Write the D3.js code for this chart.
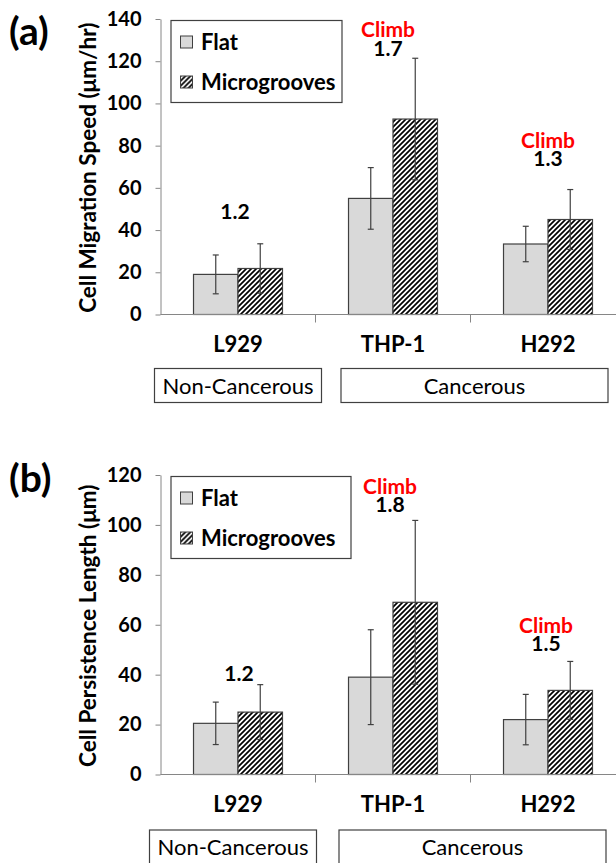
<!DOCTYPE html>
<html>
<head>
<meta charset="utf-8">
<script src="https://cdn.jsdelivr.net/npm/d3@7"></script>
<style>
  body { margin: 0; background: #fff; }
  text { font-family: Lato, "Open Sans", sans-serif; }
</style>
</head>
<body>
<svg id="chart" width="616" height="863"></svg>
<script>
// categories and groups
var categories = ["L929", "THP-1", "H292"];
var seriesNames = ["Flat", "Microgrooves"];
var groupNames = ["Non-Cancerous", "Cancerous"];
var groupMembers = [["L929"], ["THP-1", "H292"]];

// (a) migration speed, um/hr
var speedFlat = [19, 55, 33.4];
var speedFlatErr = [9.2, 14.6, 8.4];
var speedGroove = [21.8, 92.6, 45];
var speedGrooveErr = [11.7, 28.8, 14.2];
var speedRatio = ["1.2", "1.7", "1.3"];
var speedTicks = [0, 20, 40, 60, 80, 100, 120, 140];

// (b) persistence length, um
var lengthFlat = [20.5, 39, 22];
var lengthFlatErr = [8.5, 19, 10.1];
var lengthGroove = [25, 69, 33.7];
var lengthGrooveErr = [11, 32.8, 11.6];
var lengthRatio = ["1.2", "1.8", "1.5"];
var lengthTicks = [0, 20, 40, 60, 80, 100, 120];

var climbs = [false, true, true];

var panels = [
    {
        tag: "(a)", title: "Cell Migration Speed (\u03bcm/hr)",
        flat: speedFlat, flatErr: speedFlatErr, groove: speedGroove, grooveErr: speedGrooveErr,
        ratio: speedRatio, ticks: speedTicks,
        top: 19, zero: 314.5, tagY: 45,
        labelY: [45.3, 122.5, 70.2], labelDx: [-3, -5, 0],
        legendW: 171, boxY: 368.5, boxShift: [0, 4]
    },
    {
        tag: "(b)", title: "Cell Persistence Length (\u03bcm)",
        flat: lengthFlat, flatErr: lengthFlatErr, groove: lengthGroove, grooveErr: lengthGrooveErr,
        ratio: lengthRatio, ticks: lengthTicks,
        top: 475, zero: 774.5, tagY: 492,
        labelY: [37.5, 105, 49.3], labelDx: [1, -3, -2],
        legendW: 180, boxY: 830, boxShift: [-5, 2]
    }
];

var svg = d3.select("#chart");
var x0 = 160.5, x1 = 625.5;
var axisGrey = "#868686";
var barLine = "#404040";

var defs = svg.append("defs");
var hatch = defs.append("pattern")
    .attr("id", "hatch")
    .attr("patternUnits", "userSpaceOnUse")
    .attr("width", 5)
    .attr("height", 5);
hatch.append("rect").attr("width", 5).attr("height", 5).attr("fill", "#fff");
hatch.append("path")
    .attr("d", "M-1,6 L6,-1 M-1,1 L1,-1 M4,6 L6,4")
    .attr("stroke", "#000")
    .attr("stroke-width", 1.7);

var x = d3.scaleBand().domain(categories).range([x0, x1]);
var xs = d3.scaleBand().domain(seriesNames).range([0, x.bandwidth()]).paddingOuter(0.742);

panels.forEach(function (p) {
    var maxT = d3.max(p.ticks);
    var y = d3.scaleLinear().domain([0, maxT]).range([p.zero, p.top]);
    var g = svg.append("g");

    // y axis
    var yAxis = d3.axisLeft(y).tickValues(p.ticks).tickSize(5).tickSizeOuter(0).tickPadding(14);
    var ya = g.append("g")
        .attr("transform", "translate(" + x0 + ",0)")
        .call(yAxis);
    ya.select(".domain").attr("stroke", axisGrey);
    ya.selectAll(".tick line").attr("stroke", axisGrey);
    ya.selectAll(".tick text")
        .style("font-size", "20px")
        .style("font-weight", "bold")
        .attr("fill", "#000");

    // y title
    g.append("text")
        .attr("transform", "translate(96," + ((p.top + p.zero) / 2 + 1) + ") rotate(-90)")
        .attr("text-anchor", "middle")
        .style("font-size", "22.5px")
        .style("font-weight", "bold")
        .text(p.title);

    // panel tag
    g.append("text")
        .attr("x", 9)
        .attr("y", p.tagY)
        .style("font-size", "39px")
        .style("font-weight", "bold")
        .text(p.tag);

    // bars
    var rows = categories.map(function (c, i) {
        return [
            { cat: c, s: "Flat", v: p.flat[i], e: p.flatErr[i] },
            { cat: c, s: "Microgrooves", v: p.groove[i], e: p.grooveErr[i] }
        ];
    });
    var flatRows = [].concat.apply([], rows);

    g.selectAll("rect.bar")
        .data(flatRows)
        .enter().append("rect")
        .attr("class", "bar")
        .attr("x", function (d) { return x(d.cat) + xs(d.s); })
        .attr("width", xs.bandwidth())
        .attr("y", function (d) { return y(d.v); })
        .attr("height", function (d) { return y(0) - y(d.v); })
        .attr("fill", function (d) { return d.s == "Flat" ? "#d9d9d9" : "url(#hatch)"; })
        .attr("stroke", barLine)
        .attr("stroke-width", 1.2);

    // error bars
    var eb = g.selectAll("g.err")
        .data(flatRows)
        .enter().append("g")
        .attr("class", "err")
        .attr("stroke", barLine)
        .attr("stroke-width", 1.2);
    eb.append("line")
        .attr("x1", function (d) { return x(d.cat) + xs(d.s) + xs.bandwidth() / 2; })
        .attr("x2", function (d) { return x(d.cat) + xs(d.s) + xs.bandwidth() / 2; })
        .attr("y1", function (d) { return y(d.v + d.e); })
        .attr("y2", function (d) { return y(d.v - d.e); });
    [1, -1].forEach(function (sgn) {
        eb.append("line")
            .attr("x1", function (d) { return x(d.cat) + xs(d.s) + xs.bandwidth() / 2 - 3; })
            .attr("x2", function (d) { return x(d.cat) + xs(d.s) + xs.bandwidth() / 2 + 3; })
            .attr("y1", function (d) { return y(d.v + sgn * d.e); })
            .attr("y2", function (d) { return y(d.v + sgn * d.e); });
    });

    // x axis line and boundary ticks
    g.append("line")
        .attr("x1", x0).attr("x2", x1)
        .attr("y1", y(0)).attr("y2", y(0))
        .attr("stroke", axisGrey);
    var bounds = categories.map(function (c) { return x(c); }).concat([x1]);
    g.selectAll("line.xt")
        .data(bounds.slice(1))
        .enter().append("line")
        .attr("class", "xt")
        .attr("x1", function (d) { return d; })
        .attr("x2", function (d) { return d; })
        .attr("y1", y(0)).attr("y2", y(0) + 8)
        .attr("stroke", axisGrey);

    // category labels
    var xAxis = d3.axisBottom(x).tickSize(0).tickPadding(22);
    var xa = g.append("g")
        .attr("transform", "translate(0," + y(0) + ")")
        .call(xAxis);
    xa.select(".domain").remove();
    xa.selectAll(".tick text")
        .style("font-size", "22px")
        .style("font-weight", "bold")
        .attr("fill", "#000");

    // ratio labels ("Climb" stacked above the ratio in one text block)
    categories.forEach(function (c, i) {
        var cx = x(c) + x.bandwidth() / 2 + p.labelDx[i];
        var t = g.append("text")
            .attr("text-anchor", "middle")
            .style("font-size", "21px")
            .style("font-weight", "bold");
        if (climbs[i]) {
            t.append("tspan")
                .attr("x", cx)
                .attr("y", y(p.labelY[i]) - 18.5)
                .attr("fill", "#ff0000")
                .text("Climb");
        }
        t.append("tspan")
            .attr("x", cx)
            .attr("y", y(p.labelY[i]))
            .attr("fill", "#000")
            .text(p.ratio[i]);
    });

    // legend
    var lg = g.append("g").attr("transform", "translate(171," + (p.top + 1.5) + ")");
    lg.append("rect")
        .attr("width", p.legendW).attr("height", 82)
        .attr("fill", "#fff").attr("stroke", "#404040").attr("stroke-width", 1.2);
    seriesNames.forEach(function (s, i) {
        var cy = 21.5 + i * 40;
        lg.append("rect")
            .attr("x", 9.5).attr("y", cy - 6)
            .attr("width", 12).attr("height", 12)
            .attr("fill", s == "Flat" ? "#d9d9d9" : "url(#hatch)")
            .attr("stroke", barLine);
        lg.append("text")
            .attr("x", 30).attr("y", cy + 7.5)
            .style("font-size", "22px")
            .style("font-weight", "bold")
            .text(s);
    });

    // group boxes
    groupNames.forEach(function (name, i) {
        var mem = groupMembers[i];
        var cx = d3.mean(mem, function (c) { return x(c) + x.bandwidth() / 2; }) + p.boxShift[i];
        var w = mem.length == 1 ? 167 : 267;
        var bg = g.append("g").attr("transform", "translate(" + (cx - w / 2) + "," + p.boxY + ")");
        bg.append("rect")
            .attr("width", w).attr("height", 34)
            .attr("fill", "#fff").attr("stroke", "#404040").attr("stroke-width", 1.2);
        bg.append("text")
            .attr("x", w / 2).attr("y", 25)
            .attr("text-anchor", "middle")
            .style("font-size", "22px")
            .text(name);
    });
});
</script>
</body>
</html>
